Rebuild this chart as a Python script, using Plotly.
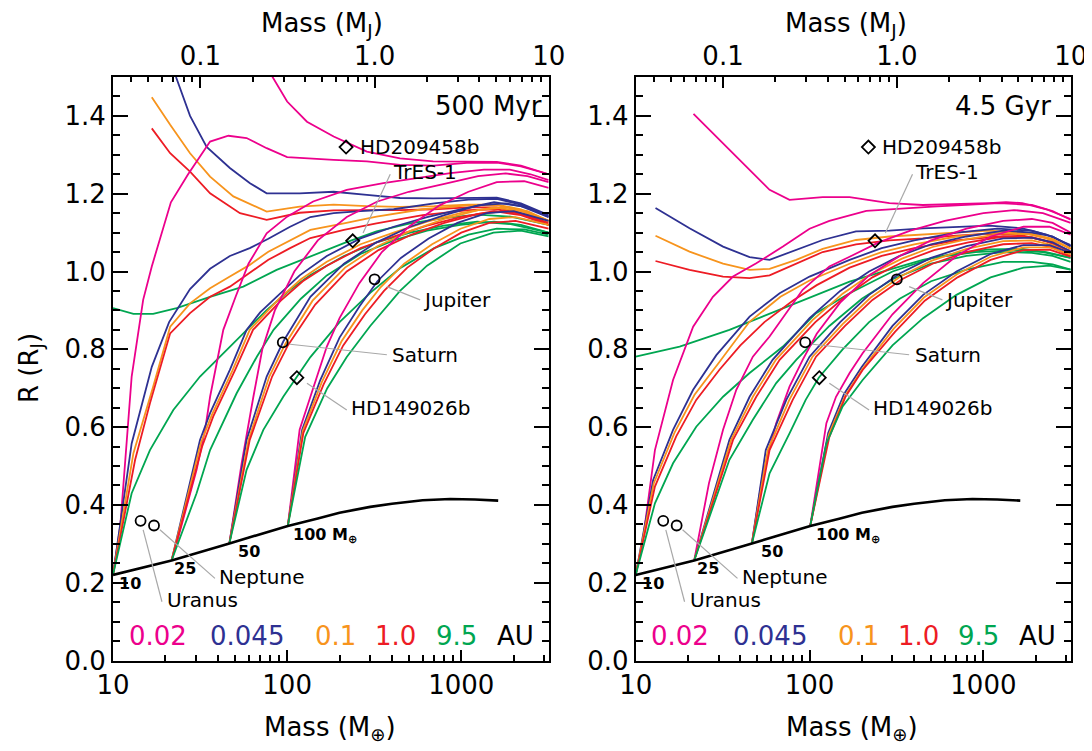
import numpy as np
import plotly.graph_objects as go

# ---------------- data: 500 Myr (left panel) ----------------
# core 0 (no core)
M500_c0_a002 = [80, 100, 130, 185, 287, 445, 690, 1078, 1600, 2200, 3178]
R500_c0_a002 = [1.51, 1.437, 1.385, 1.347, 1.308, 1.291, 1.283, 1.283, 1.282, 1.272, 1.25]
M500_c0_a0045 = [23, 27.7, 34.5, 46.9, 61.2, 76.3, 118, 185, 287, 445, 690, 1078, 1600, 2200, 3178]
R500_c0_a0045 = [1.50, 1.40, 1.32, 1.266, 1.227, 1.201, 1.201, 1.205, 1.197, 1.189, 1.188, 1.19, 1.19, 1.175, 1.145]
M500_c0_a01 = [16.7, 21.3, 27.7, 36.1, 49.1, 76.3, 118, 185, 287, 445, 700, 1100, 1600, 2200, 3178]
R500_c0_a01 = [1.448, 1.377, 1.304, 1.244, 1.193, 1.154, 1.167, 1.172, 1.168, 1.166, 1.168, 1.172, 1.172, 1.16, 1.13]
M500_c0_a1 = [16.7, 21.3, 27.7, 36.1, 53.6, 76.3, 118, 185, 287, 445, 700, 1100, 1600, 2200, 3178]
R500_c0_a1 = [1.368, 1.304, 1.257, 1.201, 1.150, 1.133, 1.151, 1.157, 1.158, 1.158, 1.16, 1.165, 1.165, 1.15, 1.125]
M500_c0_a95 = [10, 13.1, 17, 23.2, 36.1, 56, 87, 136, 212, 326, 509, 794, 1235, 1923, 3178]
R500_c0_a95 = [0.906, 0.891, 0.891, 0.906, 0.935, 0.961, 1.004, 1.038, 1.073, 1.103, 1.124, 1.137, 1.146, 1.141, 1.12]
# core 10
M500_c10_a002 = [10, 11, 12.8, 14.9, 16.7, 21.5, 27, 36.1, 46, 58.5, 76.3, 100, 185, 287, 445, 690, 1078, 1600, 2200, 3178]
R500_c10_a002 = [0.22, 0.344, 0.73, 0.927, 1.013, 1.178, 1.25, 1.334, 1.349, 1.343, 1.317, 1.294, 1.287, 1.283, 1.274, 1.272, 1.279, 1.28, 1.27, 1.25]
M500_c10_a0045 = [10, 12.8, 16.7, 21, 27.7, 36.1, 46.9, 61, 78, 104, 136, 185, 264, 409, 700, 1100, 1600, 2200, 3178]
R500_c10_a0045 = [0.22, 0.558, 0.755, 0.87, 0.955, 1.007, 1.04, 1.06, 1.084, 1.115, 1.14, 1.15, 1.155, 1.16, 1.175, 1.185, 1.187, 1.172, 1.143]
M500_c10_a01 = [10, 13.1, 17, 21.3, 27.7, 36.1, 46.9, 61, 78, 104, 136, 212, 326, 600, 1100, 1600, 2200, 3178]
R500_c10_a01 = [0.22, 0.533, 0.704, 0.858, 0.918, 0.957, 0.987, 1.017, 1.051, 1.081, 1.107, 1.124, 1.141, 1.16, 1.17, 1.17, 1.158, 1.13]
M500_c10_a1 = [10, 13.4, 16.3, 21.3, 27.7, 36.1, 46.9, 61, 78, 104, 136, 212, 326, 600, 1100, 1600, 2200, 3178]
R500_c10_a1 = [0.22, 0.516, 0.661, 0.841, 0.893, 0.935, 0.961, 0.996, 1.03, 1.06, 1.086, 1.107, 1.124, 1.145, 1.158, 1.16, 1.148, 1.12]
M500_c10_a95 = [10, 12.8, 16.3, 22.2, 31.6, 43, 56, 76, 104, 136, 212, 326, 509, 794, 1235, 1923, 3178]
R500_c10_a95 = [0.22, 0.43, 0.541, 0.644, 0.73, 0.79, 0.841, 0.90, 0.953, 0.991, 1.04, 1.075, 1.10, 1.118, 1.128, 1.122, 1.10]
# core 25
M500_c25_a002 = [21.7, 23.2, 30.2, 33.8, 36.1, 43, 50.6, 60, 76.3, 100, 141, 220, 357, 555, 865, 1350, 1900, 2500, 3178]
R500_c25_a002 = [0.257, 0.301, 0.49, 0.593, 0.678, 0.85, 0.935, 1.02, 1.098, 1.141, 1.18, 1.21, 1.227, 1.24, 1.253, 1.262, 1.262, 1.25, 1.235]
M500_c25_a0045 = [21.7, 31.6, 36.1, 46.9, 58.5, 70, 87, 118, 169, 264, 409, 636, 988, 1543, 2200, 3178]
R500_c25_a0045 = [0.257, 0.567, 0.636, 0.747, 0.85, 0.895, 0.935, 0.99, 1.04, 1.085, 1.115, 1.14, 1.16, 1.178, 1.168, 1.14]
M500_c25_a01 = [21.7, 32, 37, 48.5, 61, 90, 120, 169, 264, 409, 636, 988, 1543, 2200, 3178]
R500_c25_a01 = [0.257, 0.56, 0.632, 0.745, 0.85, 0.93, 0.98, 1.025, 1.07, 1.10, 1.128, 1.15, 1.165, 1.155, 1.13]
M500_c25_a1 = [21.7, 32.5, 37.6, 50.3, 63.7, 92, 123, 169, 264, 409, 636, 988, 1543, 2200, 3178]
R500_c25_a1 = [0.257, 0.55, 0.627, 0.747, 0.85, 0.925, 0.975, 1.015, 1.06, 1.09, 1.118, 1.14, 1.155, 1.145, 1.12]
M500_c25_a95 = [21.7, 30.2, 36.1, 51.3, 67, 83.6, 120, 169, 264, 409, 636, 988, 1543, 2200, 3178]
R500_c25_a95 = [0.257, 0.43, 0.541, 0.687, 0.781, 0.85, 0.93, 0.99, 1.045, 1.08, 1.105, 1.12, 1.128, 1.12, 1.10]
# core 50
M500_c50_a002 = [46.6, 54.8, 64, 72, 85, 110, 150, 220, 330, 500, 800, 1250, 1800, 2400, 3178]
R500_c50_a002 = [0.301, 0.507, 0.678, 0.80, 0.90, 1.0, 1.08, 1.14, 1.18, 1.205, 1.225, 1.245, 1.252, 1.245, 1.23]
M500_c50_a0045 = [46.6, 58.5, 76.3, 95, 136, 212, 326, 509, 800, 1250, 1800, 2400, 3178]
R500_c50_a0045 = [0.301, 0.567, 0.73, 0.82, 0.935, 1.02, 1.075, 1.115, 1.145, 1.17, 1.175, 1.165, 1.14]
M500_c50_a01 = [46.6, 60, 79, 98, 140, 215, 330, 515, 800, 1250, 1800, 2400, 3178]
R500_c50_a01 = [0.301, 0.567, 0.73, 0.815, 0.925, 1.01, 1.065, 1.105, 1.135, 1.158, 1.165, 1.155, 1.13]
M500_c50_a1 = [46.6, 61, 82, 101, 145, 220, 335, 520, 800, 1250, 1800, 2400, 3178]
R500_c50_a1 = [0.301, 0.567, 0.73, 0.81, 0.915, 1.0, 1.055, 1.095, 1.125, 1.148, 1.155, 1.145, 1.12]
M500_c50_a95 = [46.6, 58.5, 73, 95, 136, 200, 300, 450, 700, 1100, 1600, 2300, 3178]
R500_c50_a95 = [0.301, 0.49, 0.593, 0.678, 0.78, 0.87, 0.945, 1.01, 1.06, 1.095, 1.11, 1.108, 1.095]
# core 100
M500_c100_a002 = [100.9, 118, 136, 169, 200, 260, 350, 500, 750, 1100, 1600, 2300, 3178]
R500_c100_a002 = [0.346, 0.593, 0.678, 0.807, 0.88, 0.97, 1.05, 1.115, 1.17, 1.205, 1.23, 1.232, 1.215]
M500_c100_a0045 = [100.9, 122, 155, 200, 260, 330, 450, 650, 950, 1400, 2000, 3178]
R500_c100_a0045 = [0.346, 0.593, 0.721, 0.83, 0.91, 0.975, 1.035, 1.085, 1.125, 1.15, 1.155, 1.13]
M500_c100_a01 = [100.9, 123, 158, 205, 270, 345, 470, 680, 990, 1450, 2050, 3178]
R500_c100_a01 = [0.346, 0.59, 0.715, 0.82, 0.90, 0.96, 1.02, 1.07, 1.11, 1.135, 1.14, 1.12]
M500_c100_a1 = [100.9, 124, 162, 210, 280, 360, 490, 700, 1000, 1450, 2050, 3178]
R500_c100_a1 = [0.346, 0.585, 0.71, 0.81, 0.89, 0.95, 1.01, 1.06, 1.10, 1.125, 1.13, 1.11]
M500_c100_a95 = [100.9, 127, 170, 220, 300, 445, 636, 988, 1530, 2200, 3178]
R500_c100_a95 = [0.346, 0.575, 0.70, 0.78, 0.86, 0.95, 1.015, 1.072, 1.10, 1.105, 1.09]

# ---------------- data: 4.5 Gyr (right panel) ----------------
M45_c0_a002 = [21.5, 29.1, 43.2, 58.9, 76.7, 119, 170, 288, 448, 696, 1080, 1349, 1675, 2300, 3178]
R45_c0_a002 = [1.405, 1.347, 1.27, 1.21, 1.184, 1.191, 1.191, 1.176, 1.171, 1.173, 1.176, 1.178, 1.176, 1.16, 1.135]
M45_c0_a0045 = [13, 20.4, 31.8, 45.2, 58.9, 83.8, 119, 185, 288, 448, 696, 1080, 1675, 2300, 3178]
R45_c0_a0045 = [1.163, 1.111, 1.064, 1.037, 1.03, 1.056, 1.081, 1.103, 1.105, 1.111, 1.115, 1.118, 1.111, 1.095, 1.068]
M45_c0_a01 = [13, 20.4, 31.8, 45.2, 58.9, 83.8, 119, 185, 288, 448, 696, 1080, 1675, 2300, 3178]
R45_c0_a01 = [1.092, 1.051, 1.02, 1.004, 1.007, 1.03, 1.058, 1.081, 1.09, 1.095, 1.10, 1.105, 1.10, 1.085, 1.06]
M45_c0_a1 = [13, 20.4, 31.8, 45.2, 58.9, 83.8, 119, 185, 288, 448, 696, 1080, 1675, 2300, 3178]
R45_c0_a1 = [1.027, 1.004, 0.987, 0.983, 0.99, 1.02, 1.05, 1.07, 1.08, 1.085, 1.092, 1.097, 1.093, 1.078, 1.052]
M45_c0_a95 = [10, 17.9, 34.6, 67.3, 130, 170, 288, 448, 700, 1080, 1675, 2300, 3178]
R45_c0_a95 = [0.781, 0.807, 0.85, 0.901, 0.953, 0.974, 1.005, 1.03, 1.047, 1.057, 1.058, 1.05, 1.035]
M45_c10_a002 = [10, 11, 12.9, 16.4, 21.4, 27.8, 36.3, 49.4, 70.3, 100, 130, 170, 212, 512, 1236, 1900, 2500, 3178]
R45_c10_a002 = [0.22, 0.31, 0.541, 0.721, 0.858, 0.935, 0.987, 1.021, 1.064, 1.11, 1.13, 1.145, 1.156, 1.167, 1.176, 1.171, 1.155, 1.133]
M45_c10_a0045 = [10, 12.6, 16.4, 21.4, 29.1, 45.2, 67.3, 100, 170, 260, 400, 700, 1200, 1900, 2500, 3178]
R45_c10_a0045 = [0.22, 0.464, 0.593, 0.696, 0.785, 0.884, 0.944, 0.987, 1.03, 1.06, 1.08, 1.10, 1.11, 1.105, 1.09, 1.065]
M45_c10_a01 = [10, 12.7, 16.7, 21.8, 30, 45, 68, 100, 170, 260, 400, 700, 1200, 1900, 2500, 3178]
R45_c10_a01 = [0.22, 0.455, 0.585, 0.683, 0.765, 0.87, 0.935, 0.977, 1.02, 1.05, 1.07, 1.09, 1.10, 1.097, 1.083, 1.058]
M45_c10_a1 = [10, 12.9, 17.1, 22.3, 30.4, 40, 55, 80, 110, 170, 260, 400, 700, 1200, 1900, 2500, 3178]
R45_c10_a1 = [0.22, 0.447, 0.576, 0.67, 0.748, 0.81, 0.87, 0.925, 0.965, 1.01, 1.04, 1.06, 1.08, 1.09, 1.087, 1.073, 1.05]
M45_c10_a95 = [10, 12.9, 16.4, 22.3, 31.8, 45.2, 70.3, 109, 170, 300, 512, 900, 1500, 2200, 3178]
R45_c10_a95 = [0.22, 0.404, 0.507, 0.601, 0.678, 0.739, 0.807, 0.893, 0.944, 1.0, 1.035, 1.05, 1.055, 1.05, 1.035]
M45_c25_a002 = [21.7, 26.4, 31.8, 37.9, 47.2, 58.9, 91.3, 130, 170, 250, 380, 600, 1000, 1500, 2200, 3178]
R45_c25_a002 = [0.257, 0.456, 0.593, 0.696, 0.781, 0.833, 0.953, 1.013, 1.038, 1.075, 1.105, 1.13, 1.15, 1.158, 1.15, 1.125]
M45_c25_a0045 = [21.7, 34.6, 45.2, 61.3, 100, 150, 220, 330, 500, 800, 1300, 1900, 2500, 3178]
R45_c25_a0045 = [0.257, 0.567, 0.678, 0.773, 0.88, 0.95, 1.0, 1.04, 1.07, 1.09, 1.105, 1.10, 1.09, 1.065]
M45_c25_a01 = [21.7, 35.4, 47.2, 64, 104, 155, 225, 340, 510, 810, 1300, 1900, 2500, 3178]
R45_c25_a01 = [0.257, 0.567, 0.678, 0.773, 0.875, 0.943, 0.993, 1.033, 1.063, 1.083, 1.098, 1.095, 1.083, 1.058]
M45_c25_a1 = [21.7, 36.3, 49.4, 67.3, 108, 160, 230, 345, 520, 820, 1300, 1900, 2500, 3178]
R45_c25_a1 = [0.257, 0.567, 0.678, 0.773, 0.87, 0.935, 0.985, 1.025, 1.055, 1.075, 1.09, 1.088, 1.075, 1.05]
M45_c25_a95 = [21.7, 34.6, 47.2, 64.3, 83.8, 130, 200, 300, 500, 800, 1300, 1900, 2500, 3178]
R45_c25_a95 = [0.257, 0.516, 0.619, 0.713, 0.773, 0.86, 0.93, 0.98, 1.02, 1.04, 1.05, 1.048, 1.04, 1.025]
M45_c50_a002 = [46.6, 53.9, 64.3, 76.7, 91.3, 110, 150, 220, 330, 500, 800, 1300, 1900, 2500, 3178]
R45_c50_a002 = [0.301, 0.481, 0.61, 0.704, 0.773, 0.84, 0.92, 0.99, 1.04, 1.08, 1.11, 1.13, 1.135, 1.125, 1.10]
M45_c50_a0045 = [46.6, 56, 73.5, 100, 150, 220, 330, 500, 800, 1300, 1900, 2500, 3178]
R45_c50_a0045 = [0.301, 0.541, 0.67, 0.781, 0.87, 0.94, 0.995, 1.035, 1.065, 1.085, 1.087, 1.075, 1.052]
M45_c50_a01 = [46.6, 57.5, 76.5, 104, 155, 225, 335, 505, 800, 1300, 1900, 2500, 3178]
R45_c50_a01 = [0.301, 0.541, 0.67, 0.781, 0.865, 0.933, 0.988, 1.028, 1.058, 1.078, 1.08, 1.068, 1.045]
M45_c50_a1 = [46.6, 58.9, 80, 109, 160, 230, 340, 510, 800, 1300, 1900, 2500, 3178]
R45_c50_a1 = [0.301, 0.541, 0.67, 0.781, 0.86, 0.927, 0.98, 1.02, 1.05, 1.07, 1.073, 1.062, 1.04]
M45_c50_a95 = [46.6, 58.9, 76.7, 95, 113, 155, 220, 330, 500, 800, 1300, 1900, 2500, 3178]
R45_c50_a95 = [0.301, 0.481, 0.584, 0.67, 0.727, 0.80, 0.87, 0.93, 0.975, 1.005, 1.025, 1.025, 1.018, 1.005]
M45_c100_a002 = [100.9, 125, 142, 170, 202, 300, 450, 700, 1100, 1700, 2400, 3178]
R45_c100_a002 = [0.346, 0.61, 0.678, 0.739, 0.79, 0.89, 0.97, 1.04, 1.09, 1.115, 1.115, 1.095]
M45_c100_a0045 = [100.9, 128, 158, 200, 300, 450, 700, 1100, 1700, 2400, 3178]
R45_c100_a0045 = [0.346, 0.585, 0.685, 0.755, 0.86, 0.94, 1.0, 1.045, 1.068, 1.068, 1.048]
M45_c100_a01 = [100.9, 129, 160, 202, 305, 455, 705, 1100, 1700, 2400, 3178]
R45_c100_a01 = [0.346, 0.58, 0.68, 0.75, 0.853, 0.933, 0.993, 1.038, 1.062, 1.062, 1.043]
M45_c100_a1 = [100.9, 130, 161, 202, 310, 460, 710, 1100, 1700, 2400, 3178]
R45_c100_a1 = [0.346, 0.575, 0.678, 0.747, 0.845, 0.925, 0.985, 1.03, 1.055, 1.056, 1.038]
M45_c100_a95 = [100.9, 125, 155, 202, 300, 450, 700, 1100, 1700, 2400, 3178]
R45_c100_a95 = [0.346, 0.558, 0.653, 0.721, 0.81, 0.88, 0.94, 0.985, 1.01, 1.015, 1.005]

# core radius curve (both panels)
M_core = [10, 21.7, 46.6, 100.9, 150, 200, 300, 400, 600, 865, 1200, 1630]
R_core = [0.22, 0.257, 0.301, 0.346, 0.365, 0.38, 0.395, 0.403, 0.412, 0.415, 0.414, 0.411]
core_labels = ["10", "25", "50", "100 M<sub>⊕</sub>"]
core_label_M = [10.6, 21.9, 51, 105.5]
core_label_R = [0.197, 0.237, 0.28, 0.321]

# observed planets
planet_names = ["HD209458b", "TrES-1", "Jupiter", "Saturn", "HD149026b", "Neptune", "Uranus"]
planet_M = [218, 238, 317.8, 94.4, 113.8, 17.2, 14.4]
planet_R = [1.32, 1.079, 0.98, 0.818, 0.727, 0.347, 0.359]
planet_symbol = ["diamond-open", "diamond-open", "circle-open", "circle-open", "diamond-open", "circle-open", "circle-open"]
label_M = [255, 396, 589, 391, 227, 39.6, 19.9]
label_R = [1.32, 1.256, 0.927, 0.786, 0.649, 0.215, 0.156]
leader_M0 = [None, 273, 374, 104, 130, 18.6, 14.9]
leader_R0 = [None, 1.099, 0.961, 0.813, 0.713, 0.336, 0.336]
leader_M1 = [None, 391, 581, 374, 220, 38.5, 19.1]
leader_R1 = [None, 1.25, 0.927, 0.786, 0.644, 0.211, 0.151]

AU_labels = ["0.02", "0.045", "0.1", "1.0", "9.5", "AU"]
AU_label_M = [12.0, 35.3, 141.6, 313, 693, 1566]
AU_label_R = 0.063
ages = ["500 Myr", "4.5 Gyr"]

top_ticks_MJ = [0.1, 1.0, 10]
MJ_in_ME = 317.83

COLORS = {"0.02": "#EC008C", "0.045": "#2E3192", "0.1": "#F7941D", "1.0": "#ED1C24", "9.5": "#00A651", "AU": "black"}

AU_keys = [("a002", "0.02"), ("a0045", "0.045"), ("a01", "0.1"), ("a1", "1.0"), ("a95", "9.5")]
cores = ["c0", "c10", "c25", "c50", "c100"]

FONT = "DejaVu Sans"
fig = go.Figure()

panels = [("500", "x", "y", "x3"), ("45", "x2", "y2", "x4")]
g = globals()
for age_key, xa, ya, xtop in panels:
    for c in cores:
        for ak, au in AU_keys:
            fig.add_trace(go.Scatter(x=g[f"M{age_key}_{c}_{ak}"], y=g[f"R{age_key}_{c}_{ak}"],
                                     mode="lines", line=dict(color=COLORS[au], width=1.8),
                                     xaxis=xa, yaxis=ya, showlegend=False, hoverinfo="skip"))
    fig.add_trace(go.Scatter(x=M_core, y=R_core, mode="lines", line=dict(color="black", width=2.6),
                             xaxis=xa, yaxis=ya, showlegend=False, hoverinfo="skip"))
    for i in range(len(planet_names)):
        if leader_M0[i] is None:
            continue
        fig.add_trace(go.Scatter(x=[leader_M0[i], leader_M1[i]], y=[leader_R0[i], leader_R1[i]],
                                 mode="lines", line=dict(color="#A8A8A8", width=1.2),
                                 xaxis=xa, yaxis=ya, showlegend=False, hoverinfo="skip"))
    fig.add_trace(go.Scatter(x=planet_M, y=planet_R, mode="markers",
                             marker=dict(symbol=planet_symbol, size=10, color="black",
                                         line=dict(color="black", width=1.8)),
                             xaxis=xa, yaxis=ya, showlegend=False, hoverinfo="skip"))
    fig.add_trace(go.Scatter(x=top_ticks_MJ, y=[None] * len(top_ticks_MJ), mode="lines",
                             xaxis=xtop, yaxis=ya, showlegend=False, hoverinfo="skip"))

for p, (age_key, xa, ya, xtop) in enumerate(panels):
    for i, name in enumerate(planet_names):
        fig.add_annotation(x=np.log10(label_M[i]), y=label_R[i], xref=xa, yref=ya, text=name,
                           showarrow=False, xanchor="left", yanchor="middle",
                           font=dict(family=FONT, size=20, color="black"))
    for i, t in enumerate(core_labels):
        fig.add_annotation(x=np.log10(core_label_M[i]), y=core_label_R[i], xref=xa, yref=ya, text=t,
                           showarrow=False, xanchor="left", yanchor="middle",
                           font=dict(family=FONT, size=16, color="black", weight="bold"))
    for i, t in enumerate(AU_labels):
        fig.add_annotation(x=np.log10(AU_label_M[i]), y=AU_label_R, xref=xa, yref=ya, text=t,
                           showarrow=False, xanchor="left", yanchor="middle",
                           font=dict(family=FONT, size=26, color=COLORS[t]))
    fig.add_annotation(x=[0.99, 0.96][p], y=1.426, xref=f"{xa} domain", yref=ya, text=ages[p],
                       showarrow=False, xanchor="right", yanchor="middle",
                       font=dict(family=FONT, size=26, color="black"))

# the page body adds an 8px margin, so the figure is laid out 8px smaller and shifted
OFF = 8
W, H = 1092 - OFF, 751 - OFF
dom_x = [[(113 - OFF) / W, (548.7 - OFF) / W], [(635.7 - OFF) / W, (1070.7 - OFF) / W]]
dom_y = [1 - (660.5 - OFF) / H, 1 - (77 - OFF) / H]

xr = [1, np.log10(10 * MJ_in_ME)]
xr_top = [xr[0] - np.log10(MJ_in_ME), xr[1] - np.log10(MJ_in_ME)]
minor_bot = [20, 30, 40, 50, 60, 70, 80, 90, 200, 300, 400, 500, 600, 700, 800, 900, 2000, 3000]
minor_top = [0.04, 0.05, 0.06, 0.07, 0.08, 0.09, 0.2, 0.3, 0.4, 0.5, 0.6, 0.7, 0.8, 0.9,
             2, 3, 4, 5, 6, 7, 8, 9]
tickfont = dict(family=FONT, size=26, color="black")

def xbottom(dom, anchor):
    return dict(type="log", range=xr, domain=dom, anchor=anchor, showline=True, linecolor="black",
                linewidth=2, ticks="inside", ticklen=11, tickwidth=2, tickcolor="black",
                tickvals=[10, 100, 1000], ticktext=["10", "100", "1000"], tickfont=tickfont,
                showgrid=False, zeroline=False, automargin=False,
                minor=dict(ticks="inside", ticklen=6, tickwidth=1.5, tickcolor="black",
                           tickvals=minor_bot, showgrid=False))

def xtopax(over, anchor):
    return dict(type="log", range=xr_top, overlaying=over, anchor=anchor, side="top", showline=True,
                linecolor="black", linewidth=2, ticks="inside", ticklen=11, tickwidth=2,
                tickcolor="black", tickvals=top_ticks_MJ, ticktext=["0.1", "1.0", "10"],
                tickfont=tickfont, showgrid=False, zeroline=False, automargin=False,
                minor=dict(ticks="inside", ticklen=5, tickwidth=1.5, tickcolor="black",
                           tickvals=minor_top, showgrid=False))

def yax(anchor):
    return dict(range=[0, 1.5], domain=dom_y, anchor=anchor, showline=True, linecolor="black",
                linewidth=2, mirror="ticks", ticks="inside", ticklen=15, tickwidth=2,
                tickcolor="black", tickvals=[0, 0.2, 0.4, 0.6, 0.8, 1.0, 1.2, 1.4],
                tickformat=".1f", tickfont=tickfont, showgrid=False,
                zeroline=False, automargin=False,
                minor=dict(ticks="inside", ticklen=7, tickwidth=1.5, tickcolor="black",
                           dtick=0.05, tick0=0, showgrid=False))

fig.update_layout(
    width=W, height=H, margin=dict(l=0, r=0, t=0, b=0),
    paper_bgcolor="white", plot_bgcolor="white", showlegend=False,
    xaxis=xbottom(dom_x[0], "y"), xaxis2=xbottom(dom_x[1], "y2"),
    xaxis3=xtopax("x", "y"), xaxis4=xtopax("x2", "y2"),
    yaxis=yax("x"), yaxis2=yax("x2"),
)

title_font = dict(family=FONT, size=26, color="black")
for cx_bot, cx_top in [(330, 322), (852, 846)]:
    fig.add_annotation(x=(cx_bot - OFF) / W, y=1 - (728 - OFF) / H, xref="paper", yref="paper",
                       text="Mass (M<sub>⊕</sub>)", showarrow=False, xanchor="center",
                       yanchor="middle", font=title_font)
    fig.add_annotation(x=(cx_top - OFF) / W, y=1 - (24 - OFF) / H, xref="paper", yref="paper",
                       text="Mass (M<sub>J</sub>)", showarrow=False, xanchor="center",
                       yanchor="middle", font=title_font)
fig.add_annotation(x=(30 - OFF) / W, y=1 - (368 - OFF) / H, xref="paper", yref="paper",
                   text="R (R<sub>J</sub>)", showarrow=False, textangle=-90,
                   xanchor="center", yanchor="middle", font=title_font)

fig.write_html("out.html")
